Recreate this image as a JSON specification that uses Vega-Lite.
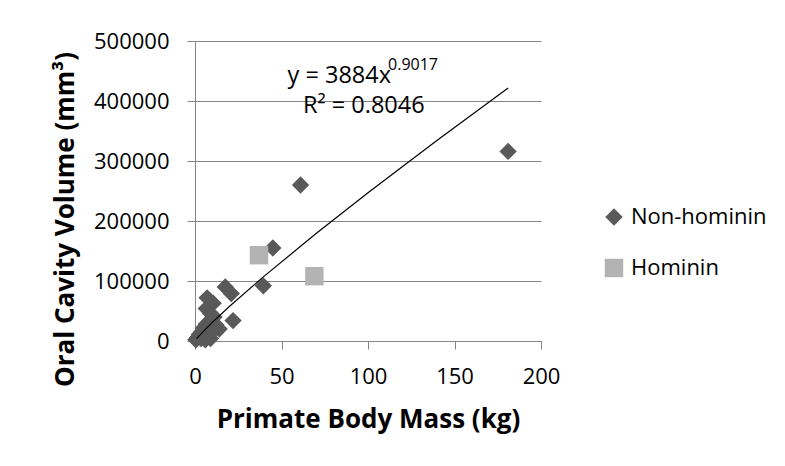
{
  "$schema": "https://vega.github.io/schema/vega-lite/v6.json",
  "width": 346,
  "height": 300,
  "autosize": {"type": "none"},
  "padding": {"left": 195, "top": 41, "right": 244, "bottom": 125},
  "background": "white",
  "config": {
    "view": {"stroke": null},
    "font": "Open Sans",
    "axis": {"labelFont": "Open Sans", "titleFont": "Open Sans", "labelColor": "#000000", "titleColor": "#000000"},
    "legend": {"labelFont": "Open Sans", "labelColor": "#000000"}
  },
  "datasets": {
    "points": [
      {"mass": 0.5, "volume": 2000, "type": "Non-hominin"},
      {"mass": 1.5, "volume": 6000, "type": "Non-hominin"},
      {"mass": 2.5, "volume": 11000, "type": "Non-hominin"},
      {"mass": 3.5, "volume": 4000, "type": "Non-hominin"},
      {"mass": 4, "volume": 16000, "type": "Non-hominin"},
      {"mass": 5, "volume": 22000, "type": "Non-hominin"},
      {"mass": 6, "volume": 2000, "type": "Non-hominin"},
      {"mass": 6.5, "volume": 28000, "type": "Non-hominin"},
      {"mass": 8, "volume": 10000, "type": "Non-hominin"},
      {"mass": 8.5, "volume": 33000, "type": "Non-hominin"},
      {"mass": 9, "volume": 4000, "type": "Non-hominin"},
      {"mass": 10, "volume": 20000, "type": "Non-hominin"},
      {"mass": 11, "volume": 40000, "type": "Non-hominin"},
      {"mass": 12, "volume": 27000, "type": "Non-hominin"},
      {"mass": 14, "volume": 20000, "type": "Non-hominin"},
      {"mass": 6.5, "volume": 54000, "type": "Non-hominin"},
      {"mass": 7, "volume": 72000, "type": "Non-hominin"},
      {"mass": 10.5, "volume": 63000, "type": "Non-hominin"},
      {"mass": 9, "volume": 46000, "type": "Non-hominin"},
      {"mass": 17.5, "volume": 90000, "type": "Non-hominin"},
      {"mass": 21, "volume": 79000, "type": "Non-hominin"},
      {"mass": 22, "volume": 34000, "type": "Non-hominin"},
      {"mass": 39.5, "volume": 92000, "type": "Non-hominin"},
      {"mass": 45, "volume": 155000, "type": "Non-hominin"},
      {"mass": 61, "volume": 260000, "type": "Non-hominin"},
      {"mass": 181, "volume": 316000, "type": "Non-hominin"},
      {"mass": 37, "volume": 143000, "type": "Hominin"},
      {"mass": 69, "volume": 108000, "type": "Hominin"}
    ],
    "trend": [
      {"mass": 1, "volume": 3884},
      {"mass": 2, "volume": 7256},
      {"mass": 5, "volume": 16579},
      {"mass": 10, "volume": 30973},
      {"mass": 20, "volume": 57868},
      {"mass": 40, "volume": 108116},
      {"mass": 70, "volume": 179044},
      {"mass": 100, "volume": 247022},
      {"mass": 140, "volume": 334568},
      {"mass": 181, "volume": 421725}
    ],
    "labels": [
      {"mass": 53.5, "volume": 429500, "text": "y = 3884x", "role": "main"},
      {"mass": 111.6, "volume": 452000, "text": "0.9017", "role": "sup"},
      {"mass": 62.4, "volume": 379500, "text": "R² = 0.8046", "role": "main"}
    ]
  },
  "layer": [
    {
      "data": {"name": "points"},
      "mark": {"type": "point", "filled": true, "opacity": 1, "strokeWidth": 0},
      "encoding": {
        "x": {
          "field": "mass", "type": "quantitative",
          "scale": {"domain": [0, 200], "nice": false, "zero": true},
          "axis": {
            "values": [0, 50, 100, 150, 200],
            "title": "Primate Body Mass (kg)",
            "grid": false,
            "domainColor": "#868686",
            "tickColor": "#868686",
            "tickSize": 8,
            "labelFontSize": 22,
            "labelPadding": 17,
            "labelFlush": false,
            "titleFontSize": 26,
            "titleFontWeight": "bold",
            "titleBaseline": "alphabetic",
            "titleY": 86,
            "titleX": 173
          }
        },
        "y": {
          "field": "volume", "type": "quantitative",
          "scale": {"domain": [0, 500000], "nice": false},
          "axis": {
            "values": [0, 100000, 200000, 300000, 400000, 500000],
            "format": "d",
            "title": "Oral Cavity Volume (mm³)",
            "grid": true,
            "gridColor": "#868686",
            "domainColor": "#868686",
            "tickColor": "#868686",
            "tickSize": 8,
            "labelFontSize": 22,
            "labelPadding": 18,
            "labelFlush": false,
            "titleFontSize": 26,
            "titleFontWeight": "bold",
            "titleBaseline": "alphabetic",
            "titleAngle": -90,
            "titleAlign": "center",
            "titleX": -122,
            "titleY": 178
          }
        },
        "shape": {
          "field": "type", "type": "nominal",
          "scale": {"domain": ["Non-hominin", "Hominin"], "range": ["diamond", "square"]},
          "legend": {
            "title": null,
            "orient": "none",
            "legendX": 408,
            "legendY": 165,
            "labelFontSize": 22,
            "symbolSize": 256,
            "labelOffset": 6,
            "rowPadding": 29,
            "padding": 0,
            "symbolStrokeWidth": 0
          }
        },
        "color": {
          "field": "type", "type": "nominal",
          "scale": {"domain": ["Non-hominin", "Hominin"], "range": ["#595959", "#b3b3b3"]},
          "legend": {
            "title": null,
            "orient": "none",
            "legendX": 408,
            "legendY": 165,
            "labelFontSize": 22,
            "symbolSize": 256,
            "labelOffset": 6,
            "rowPadding": 29,
            "padding": 0,
            "symbolStrokeWidth": 0
          }
        },
        "size": {
          "field": "type", "type": "nominal",
          "scale": {"domain": ["Non-hominin", "Hominin"], "range": [300, 340]},
          "legend": null
        }
      }
    },
    {
      "data": {"name": "trend"},
      "mark": {"type": "line", "color": "#000000", "strokeWidth": 1.2},
      "encoding": {
        "x": {"field": "mass", "type": "quantitative"},
        "y": {"field": "volume", "type": "quantitative"}
      }
    },
    {
      "data": {"name": "labels"},
      "transform": [{"filter": "datum.role === 'main'"}],
      "mark": {"type": "text", "align": "left", "baseline": "alphabetic", "color": "#000000", "font": "Open Sans", "fontSize": 23.5},
      "encoding": {
        "x": {"field": "mass", "type": "quantitative"},
        "y": {"field": "volume", "type": "quantitative"},
        "text": {"field": "text"}
      }
    },
    {
      "data": {"name": "labels"},
      "transform": [{"filter": "datum.role === 'sup'"}],
      "mark": {"type": "text", "align": "left", "baseline": "alphabetic", "color": "#000000", "font": "Open Sans", "fontSize": 16},
      "encoding": {
        "x": {"field": "mass", "type": "quantitative"},
        "y": {"field": "volume", "type": "quantitative"},
        "text": {"field": "text"}
      }
    }
  ]
}
